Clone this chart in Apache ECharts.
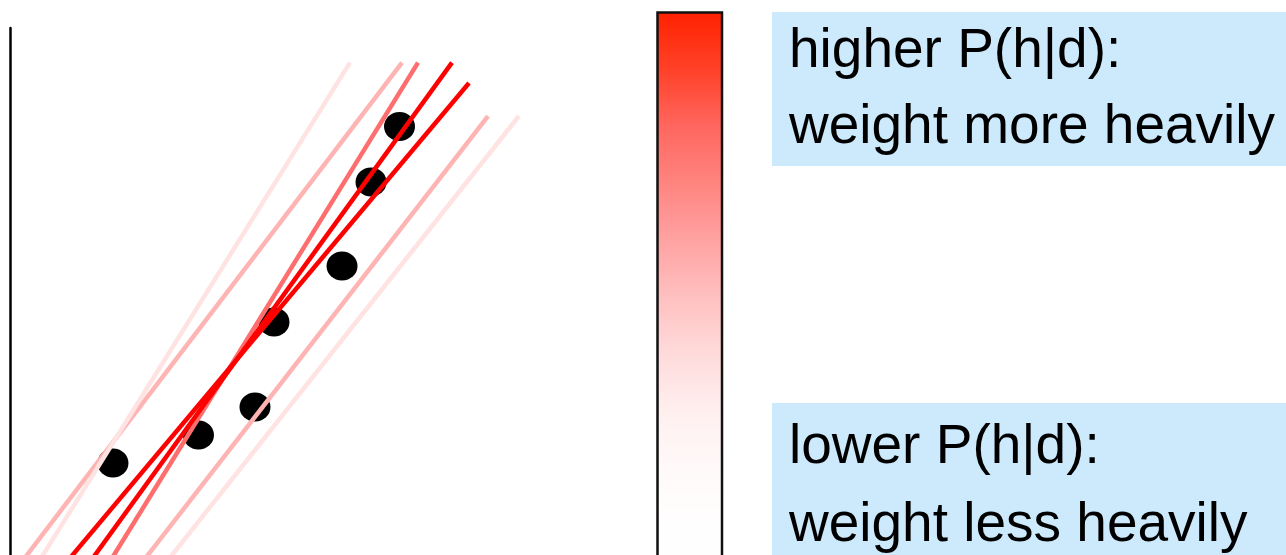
<!DOCTYPE html>
<html>
<head>
<meta charset="utf-8">
<script src="https://cdn.jsdelivr.net/npm/echarts@6/dist/echarts.min.js"></script>
<style>
html,body{margin:0;padding:0;background:#fff;}
#chart{width:1286px;height:555px;}
</style>
</head>
<body>
<div id="chart"></div>
<script>
// ---- data (axis units 0..10) ----
const dotX = [1.609, 2.945, 3.828, 4.125, 5.188, 5.641, 6.086];
const dotY = [1.746, 2.277, 2.808, 4.421, 5.484, 7.078, 8.131];

// candidate hypotheses (straight lines): top and bottom end points
const hypNames   = ['h1', 'h2', 'h3', 'h4', 'h5', 'h6', 'h7'];
const hypTopX    = [6.125, 7.469, 5.3125, 7.953, 6.375, 6.906, 7.172];
const hypTopY    = [9.342, 8.330, 9.342, 8.330, 9.342, 9.342, 8.956];
const hypBottomX = [-0.127, 1.756, 0.194, 2.125, 1.306, 0.955, 0.545];
const hypBottomY = [-0.626, -0.626, -0.626, -0.626, -0.626, -0.626, -0.626];
const hypWeight  = ['low', 'low', 'lowest', 'lowest', 'mid', 'high', 'high'];

const labelHigh = ['higher P(h|d):', 'weight more heavily'];
const labelLow  = ['lower P(h|d):', 'weight less heavily'];

// ---- styles ----
const weightColor = { lowest: '#ffe3e3', low: '#ffb4b4', mid: '#ff6e6e', high: '#ff0000' };
const barColors = ['#ffffff', '#fffefe', '#fffafa', '#fff0f0', '#ffdcdc', '#ffc1c1',
                   '#ffa3a3', '#ff8580', '#ff6760', '#ff4128', '#ff2200'];
const boxFill = '#cceafc';
const FONT = '"Liberation Sans", Arial, Helvetica, sans-serif';

const chart = echarts.init(document.getElementById('chart'), null, { renderer: 'canvas' });

const series = [{
  type: 'scatter',
  data: dotX.map((x, i) => [x, dotY[i]]),
  symbol: 'circle',
  symbolSize: [31, 29],
  itemStyle: { color: '#000', opacity: 1 },
  z: 2,
  silent: true
}];
hypNames.forEach((n, i) => {
  series.push({
    type: 'line',
    name: n,
    data: [[hypBottomX[i], hypBottomY[i]], [hypTopX[i], hypTopY[i]]],
    showSymbol: false,
    symbol: 'none',
    clip: false,
    lineStyle: { color: weightColor[hypWeight[i]], width: 4.5, cap: 'butt' },
    z: 3,
    silent: true
  });
});

function textLines(lines, y0, dy) {
  return lines.map((t, k) => ({
    type: 'text',
    x: 789, y: y0 + k * dy,
    style: {
      text: t, fill: '#000',
      font: '55px ' + FONT,
      verticalAlign: 'middle', align: 'left'
    },
    z: 11
  }));
}

chart.setOption({
  animation: false,
  backgroundColor: '#ffffff',
  grid: { left: 10, top: 28, width: 640, height: 527 },
  xAxis: { type: 'value', min: 0, max: 10, show: false },
  yAxis: {
    type: 'value', min: 0, max: 10,
    axisLine: { show: true, onZero: false, lineStyle: { color: '#000', width: 2.5 } },
    axisTick: { show: false }, axisLabel: { show: false }, splitLine: { show: false }
  },
  visualMap: [{
    type: 'continuous',
    min: 0, max: 1,
    seriesIndex: [],
    orient: 'vertical',
    left: 657, top: 12,
    itemWidth: 65, itemHeight: 575,
    calculable: false,
    hoverLink: false,
    text: null,
    padding: 0,
    borderWidth: 0,
    inRange: { color: barColors }
  }],
  graphic: [
    { type: 'rect', shape: { x: 657.5, y: 12.5, width: 64.5, height: 600 },
      style: { fill: 'none', stroke: '#111', lineWidth: 2.5 }, z: 12, silent: true },
    { type: 'rect', shape: { x: 772, y: 12, width: 520, height: 154 }, style: { fill: boxFill }, z: 10 },
    { type: 'rect', shape: { x: 772, y: 403, width: 520, height: 160 }, style: { fill: boxFill }, z: 10 }
  ].concat(textLines(labelHigh, 52, 76)).concat(textLines(labelLow, 448, 78)),
  series: series
});
</script>
</body>
</html>
